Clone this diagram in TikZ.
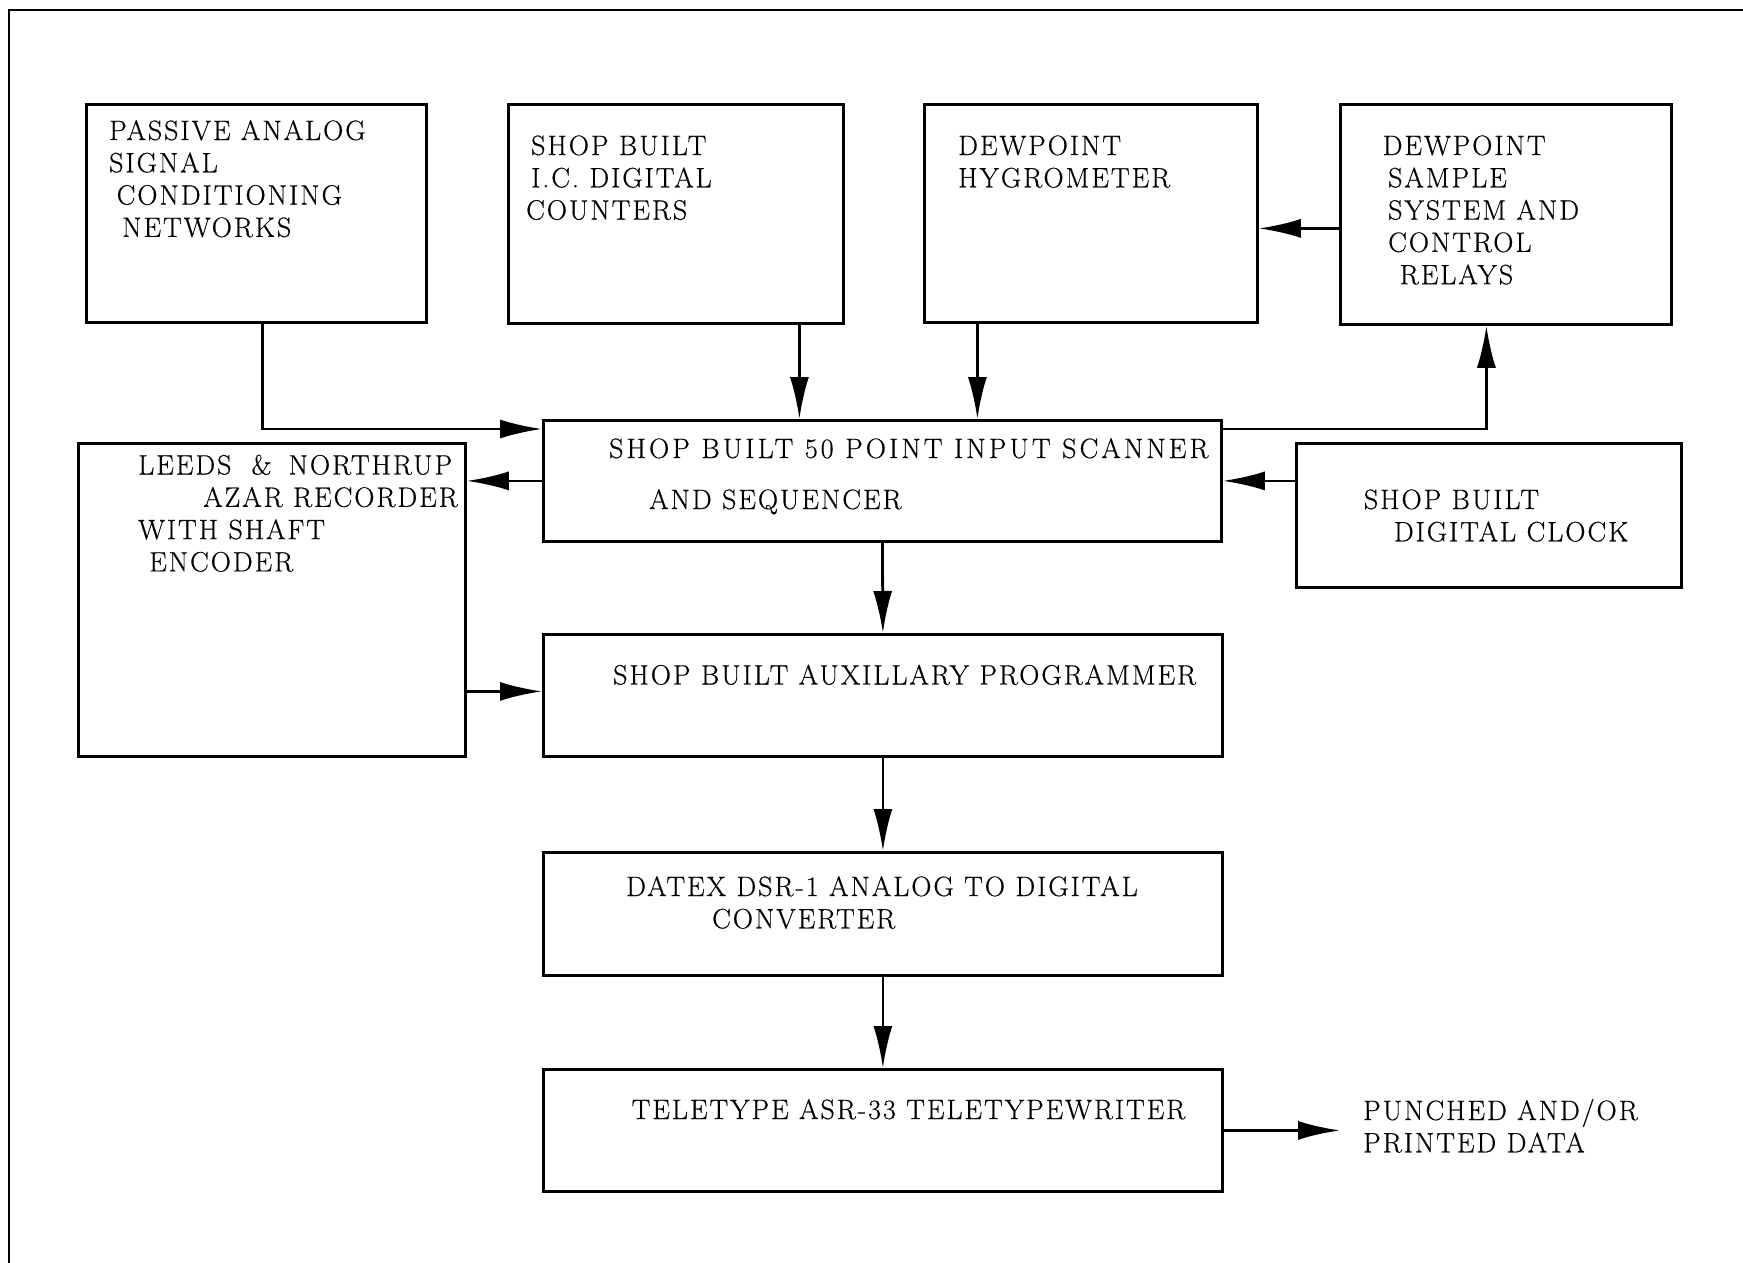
\documentclass[tikz,border=0pt]{standalone}
\usepackage{fontspec}
\setmainfont{Latin Modern Roman}[LetterSpace=7, FakeBold=0.5]
\usetikzlibrary{arrows.meta}

\tikzset{
  blk/.style={draw, line width=2.8pt, inner sep=0pt, anchor=north west},
  txt/.style={font=\fontsize{28}{32.3}\selectfont, align=left, inner sep=0pt, anchor=base west},
  arr/.style={line width=2.8pt, -{Latex[length=42pt,width=19pt]}}
}

\begin{document}
\begin{tikzpicture}[x=1pt,y=-1pt]
\clip (0,0) rectangle (1743,1263);

%Outer frame
\draw [line width=2.4pt] (9,1300) -- (9,10) -- (1780,10) ;

% Blocks
\node [blk, minimum width=340pt, minimum height=218pt] (pasv) at (85,103) {};
\node [blk, minimum width=335pt, minimum height=219pt] (ictr) at (507,103) {};
\node [blk, minimum width=333pt, minimum height=218pt] (hygr) at (923,103) {};
\node [blk, minimum width=331pt, minimum height=220pt] (samp) at (1339,103) {};
\node [blk, minimum width=678pt, minimum height=121pt] (scan) at (542,419) {};
\node [blk, minimum width=387pt, minimum height=313pt] (leeds) at (77,442) {};
\node [blk, minimum width=385pt, minimum height=144pt] (clock) at (1295,442) {};
\node [blk, minimum width=679pt, minimum height=122pt] (auxp) at (542,633) {};
\node [blk, minimum width=679pt, minimum height=123pt] (adc) at (542,851) {};
\node [blk, minimum width=679pt, minimum height=122pt] (tty) at (542,1068) {};

% Text Node (placed at the baseline of the last line)
\node [txt] (pasvT) at (109,236.9) {PASSIVE ANALOG\\SIGNAL\\\hspace*{7.5pt}CONDITIONING\\\hspace*{13pt}NETWORKS};
% Text Node
\node [txt] (ictrT) at (526,219.6) {\hspace*{5pt}SHOP BUILT\\\hspace*{5pt}I.C. DIGITAL\\COUNTERS};
% Text Node
\node [txt] (hygrT) at (958,187.3) {DEWPOINT\\HYGROMETER};
% Text Node
\node [txt] (sampT) at (1382.5,284.2) {DEWPOINT\\\hspace*{5.5pt}SAMPLE\\\hspace*{5.5pt}SYSTEM AND\\\hspace*{5.5pt}CONTROL\\\hspace*{17pt}RELAYS};
% Text Node
\node [txt] (scanT) at (609,509) {{\addfontfeature{LetterSpace=11}SHOP BUILT 50 POINT INPUT SCANNER}\\[18.7pt]\hspace*{40pt}AND SEQUENCER};
% Text Node
\node [txt] (leedsT) at (138,571.4) {LEEDS\hspace{20pt}\&\hspace{17pt}NORTHRUP\\\hspace*{65pt}AZAR RECORDER\\WITH SHAFT\\\hspace*{11pt}ENCODER};
% Text Node
\node [txt] (clockT) at (1363.7,541.3) {SHOP BUILT\\\hspace*{30pt}DIGITAL CLOCK};
% Text Node
\node [txt] (auxpT) at (613,684.5) {SHOP BUILT AUXILLARY PROGRAMMER};
% Text Node
\node [txt] (adcT) at (626,928.3) {DATEX DSR-1 ANALOG TO DIGITAL\\\hspace*{86pt}CONVERTER};
% Text Node
\node [txt] (ttyT) at (631.5,1119) {TELETYPE ASR-33 TELETYPEWRITER};
% Text Node
\node [txt] (punch) at (1363,1152.3) {PUNCHED AND/OR\\PRINTED DATA};

% Connection
\draw [arr] ([xshift=6pt]pasv.south) |- ([yshift=-10pt]scan.north west) ;
% Connection
\draw [arr] ([xshift=123.5pt]ictr.south) -- ([xshift=123.5pt]ictr.south |- scan.north) ;
% Connection
\draw [arr] ([xshift=-113.5pt]hygr.south) -- ([xshift=-113.5pt]hygr.south |- scan.north) ;
% Connection
\draw [arr] ([yshift=-14pt]samp.west) -- ([yshift=-14pt]samp.west -| hygr.east) ;
% Connection
\draw [arr] ([yshift=-10pt]scan.north east) -| ([xshift=-19.5pt]samp.south) ;
% Connection
\draw [arr] (clock.west |- scan.east) -- (scan.east) ;
% Connection
\draw [arr] (scan.west) -- (scan.west -| leeds.east) ;
% Connection
\draw [arr] (scan.south) -- (auxp.north) ;
% Connection
\draw [arr] ([yshift=4pt]auxp.west -| leeds.east) -- ([yshift=4pt]auxp.west) ;
% Connection
\draw [arr] (auxp.south) -- (adc.north) ;
% Connection
\draw [arr] (adc.south) -- (tty.north) ;
% Connection
\draw [arr, shorten >=23pt] (tty.east) -- (tty.east -| punch.west) ;

\end{tikzpicture}
\end{document}
